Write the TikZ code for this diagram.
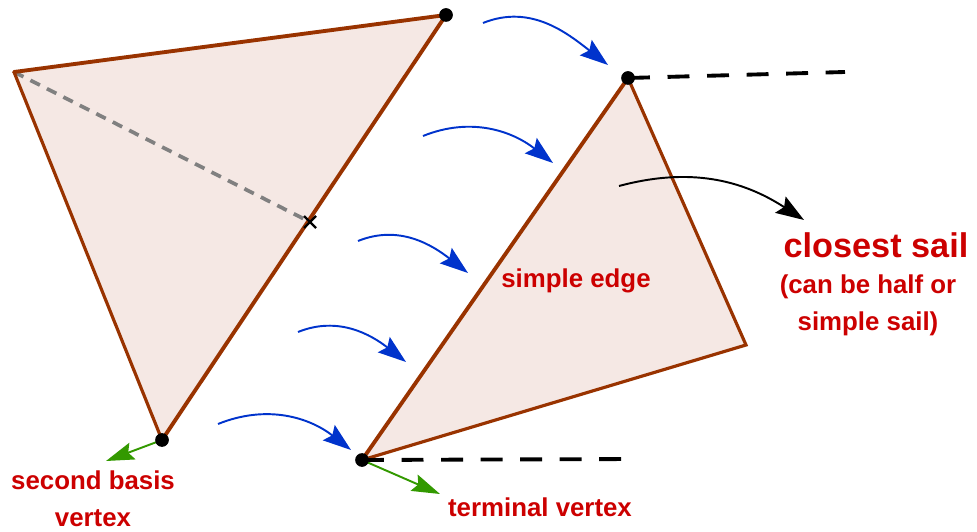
\documentclass[tikz,border=0pt]{standalone}
\usepackage{fontspec}
\setmainfont{Liberation Sans}
\usetikzlibrary{arrows.meta}
\definecolor{sailfill}{RGB}{245,232,228}
\definecolor{sailedge}{RGB}{153,51,0}
\definecolor{labelred}{RGB}{204,0,0}
\definecolor{moveblue}{RGB}{0,51,204}
\definecolor{dirgreen}{RGB}{51,153,0}

\begin{document}
\begin{tikzpicture}[x=0.02cm, y=0.02cm,
    every node/.style={font=\fontsize{14.7}{21}\selectfont\bfseries, text=labelred, align=center},
    edge/.style={sailedge, line width=2.2pt, line cap=round},
    thinedge/.style={sailedge, line width=1.8pt, line cap=round},
    move/.style={-{Stealth[length=16pt,width=11pt,inset=2.5pt]}, moveblue, line width=1.1pt},
    dir/.style={-{Stealth[length=16pt,width=10pt,inset=2.5pt]}, dirgreen, line width=1.1pt},
    ray/.style={dash pattern=on 12.5pt off 10pt, line width=2.2pt}]
\useasboundingbox (0,0) rectangle (977,531);

% old sail and new sail
\coordinate (A) at (14,459);
\coordinate (B) at (446,516);
\coordinate (C) at (162,91);
\coordinate (X) at (310,309);
\coordinate (D) at (628,453);
\coordinate (E) at (746,186);
\coordinate (F) at (362,71);
\coordinate (Dend) at (845,459);
\coordinate (Fend) at (635,72);

\fill[sailfill] (A) -- (B) -- (C) -- cycle;
\fill[sailfill] (D) -- (E) -- (F) -- cycle;
\draw[gray, line width=2.1pt, dash pattern=on 6pt off 4.5pt] (A) -- (X);
\draw[edge] (A) -- (B) -- (C);
\draw[thinedge] (C) -- (A);
\draw[edge] (D) -- (F);
\draw[thinedge] (D) -- (E) -- (F);
\draw[line width=1.3pt] (X) +(-6,-6) -- +(6,6) (X) +(-6,6) -- +(6,-6);
\draw[ray] (D) -- (Dend);
\draw[ray] (F) -- (Fend);

% moving the sail
\coordinate (m1) at (483,508);  \coordinate (n1) at (608,466);
\coordinate (m2) at (423,395);  \coordinate (n2) at (553,368);
\coordinate (m3) at (358,290);  \coordinate (n3) at (468,258);
\coordinate (m4) at (298,199);  \coordinate (n4) at (406,169);
\coordinate (m5) at (218,107);  \coordinate (n5) at (351,81);
\foreach \i in {1,...,5}
    \draw[move] (m\i) to[out=22, in=142] (n\i);

\coordinate (p) at (619,345);
\coordinate (q) at (804,311);
\draw[-{Stealth[length=16pt,width=11pt,inset=2.5pt]}, line width=1.1pt] (p) to[out=15, in=147] (q);

\coordinate (Cdir) at (106,70);
\coordinate (Fdir) at (440,37);
\draw[dir] (C) -- (Cdir);
\draw[dir] (F) -- (Fdir);

\foreach \v in {B,C,D,F}
    \fill (\v) circle (3.9pt);

% labels
\node[font=\fontsize{19.5}{23}\selectfont\bfseries] (sail) at (876,286) {closest sail};
\node (half) at (868,226) {(can be half or\\simple sail)};
\node (simple) at (576,250) {simple edge};
\node (basis) at (93,32) {second basis\\vertex};
\node (term) at (540,24) {terminal vertex};
\end{tikzpicture}
\end{document}
